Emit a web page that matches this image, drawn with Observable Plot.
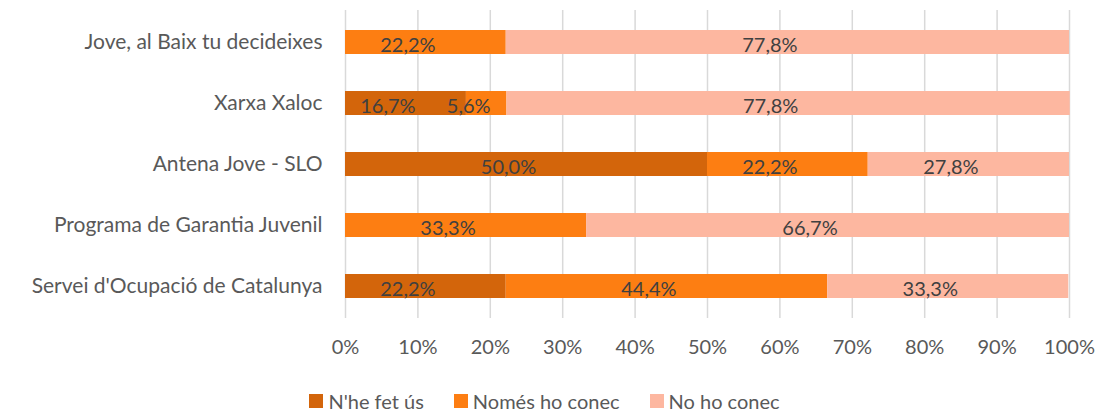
<!DOCTYPE html>
<html>
<head>
<meta charset="utf-8">
<script src="https://cdn.jsdelivr.net/npm/d3@7"></script>
<script src="https://cdn.jsdelivr.net/npm/@observablehq/plot@0.6"></script>
<style>
  html, body { margin: 0; padding: 0; background: white; }
  #chart { width: 1107px; height: 380px; }
  .legend { display: flex; justify-content: center; align-items: center; gap: 30px;
            font-family: Lato, "Open Sans", sans-serif; font-size: 20px; color: #595959;
            height: 24px; margin-top: 9px; width: 1089px; padding-right: 18px; }
  .legend .item { display: flex; align-items: center; gap: 5px; }
  .legend .sw { width: 14px; height: 14px; display: inline-block; }
</style>
</head>
<body>
<div id="chart"></div>
<script>
const categories = ["Jove, al Baix tu decideixes", "Xarxa Xaloc", "Antena Jove - SLO", "Programa de Garantia Juvenil", "Servei d'Ocupació de Catalunya"];
const series = ["N'he fet ús", "Només ho conec", "No ho conec"];
const usedValues = [0, 16.7, 50.0, 0, 22.2];
const knownValues = [22.2, 5.6, 22.2, 33.3, 44.4];
const unknownValues = [77.8, 77.8, 27.8, 66.7, 33.3];
const seriesColors = ["#D3650B", "#FD7E12", "#FDB7A0"];
const xTicks = [0, 10, 20, 30, 40, 50, 60, 70, 80, 90, 100];

const valueSets = [usedValues, knownValues, unknownValues];
const rows = [];
series.forEach((s, si) => {
  categories.forEach((c, ci) => {
    rows.push({cat: c, series: s, value: valueSets[si][ci]});
  });
});
const fmt = v => v.toFixed(1).replace(".", ",") + "%";

const chart = Plot.plot({
  width: 1107,
  height: 380,
  marginLeft: 345,
  marginRight: 38,
  marginTop: 10,
  marginBottom: 62,
  style: {fontFamily: "Lato, 'Open Sans', sans-serif", fontSize: "20px", color: "#595959", background: "white"},
  x: {domain: [0, 100]},
  y: {domain: categories, paddingInner: 0.6, paddingOuter: 0.3},
  color: {domain: series, range: seriesColors},
  marks: [
    Plot.ruleX(xTicks, {stroke: "#d9d9d9", strokeWidth: 1.5}),
    Plot.barX(rows, {x: "value", y: "cat", fill: "series", order: series}),
    Plot.text(rows, Plot.stackX({
      x: "value", y: "cat", z: "series", order: series,
      text: d => d.value > 0 ? fmt(d.value) : "",
      fill: "#404040", fontSize: 20, dy: 3, dx: -18
    })),
    Plot.axisX({ticks: xTicks, tickSize: 0, tickPadding: 21, tickFormat: d => d + "%", fontSize: 20, fill: "#595959", label: null}),
    Plot.axisY({tickSize: 0, tickPadding: 23, fontSize: 21, fill: "#595959", label: null})
  ]
});
document.getElementById("chart").appendChild(chart);

const legend = document.createElement("div");
legend.className = "legend";
series.forEach((s, i) => {
  const item = document.createElement("div");
  item.className = "item";
  const sw = document.createElement("span");
  sw.className = "sw";
  sw.style.background = seriesColors[i];
  const lab = document.createElement("span");
  lab.textContent = s;
  item.appendChild(sw);
  item.appendChild(lab);
  legend.appendChild(item);
});
document.body.appendChild(legend);
</script>
</body>
</html>
